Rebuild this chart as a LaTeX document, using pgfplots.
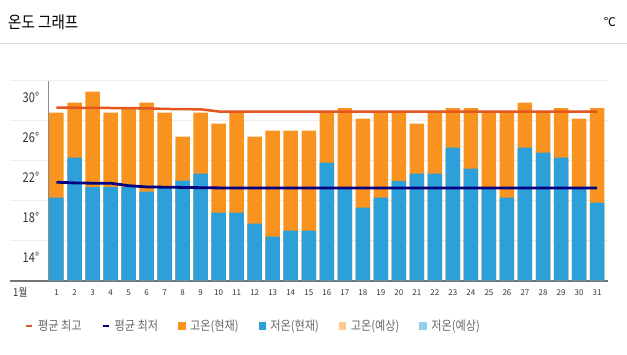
\documentclass[border=0pt]{standalone}
\usepackage{pgfplots}
\usepackage{pgfplotstable}
\pgfplotsset{compat=1.18}
\usepackage{fontspec}
\setmainfont{Noto Sans CJK KR}
\newfontfamily\kr[FakeStretch=0.87]{Noto Sans CJK KR}
\newfontfamily\krn[FakeStretch=0.82]{Noto Sans CJK KR}
\definecolor{hiC}{HTML}{F7931E}
\definecolor{loC}{HTML}{2D9FD9}
\definecolor{avgHi}{HTML}{E4561E}
\definecolor{avgLo}{HTML}{000080}
\definecolor{hiF}{HTML}{FFC98F}
\definecolor{loF}{HTML}{8ECFEA}
\definecolor{txt}{HTML}{333333}
\definecolor{leg}{HTML}{666666}

\pgfplotstableread{
day high low avghigh avglow
1  28.8  20.3  29.30 21.85
2  29.8  24.3  29.30 21.78
3  30.9  21.35 29.28 21.75
4  28.8  21.35 29.27 21.75
5  29.25 21.35 29.25 21.50
6  29.8  20.9  29.24 21.38
7  28.8  21.35 29.18 21.35
8  26.4  22.0  29.15 21.33
9  28.8  22.7  29.14 21.30
10 27.7  18.8  28.92 21.28
11 28.95 18.8  28.92 21.28
12 26.4  17.7  28.92 21.28
13 27.0  16.4  28.92 21.28
14 27.0  17.0  28.92 21.28
15 27.0  17.0  28.92 21.28
16 28.95 23.8  28.92 21.28
17 29.25 21.3  28.92 21.28
18 28.2  19.3  28.92 21.28
19 28.95 20.3  28.92 21.28
20 28.95 21.95 28.92 21.28
21 27.7  22.7  28.92 21.28
22 28.95 22.7  28.92 21.28
23 29.25 25.3  28.92 21.28
24 29.25 23.2  28.92 21.28
25 28.95 21.3  28.92 21.28
26 28.95 20.3  28.92 21.28
27 29.8  25.3  28.92 21.28
28 28.95 24.8  28.92 21.28
29 29.25 24.3  28.92 21.28
30 28.2  21.3  28.92 21.28
31 29.25 19.8  28.92 21.28
}\data

\begin{document}
\begin{tikzpicture}
\useasboundingbox (-10pt,-73.3pt) rectangle (617pt,280.7pt);
\begin{axis}[
  at={(0pt,0pt)}, anchor=south west,
  scale only axis, width=597.7pt, height=200pt,
  xmin=-1.58, xmax=31.59, ymin=12, ymax=32,
  axis x line*=bottom, axis y line*=left,
  x axis line style={-, draw=black!55, line width=1.6pt},
  y axis line style={draw=none},
  major tick length=0pt,
  ytick={12,16,20,24,28,32}, yticklabels={},
  ymajorgrids, grid style={draw=black!7, line width=0.8pt},
  extra y ticks={14,18,22,26,30},
  extra y tick labels={14°,18°,22°,26°,30°},
  extra y tick style={grid=none},
  yticklabel style={anchor=east, inner sep=0pt, xshift=29.3pt, yshift=3.7pt, font=\krn\fontsize{13.5}{14}\selectfont, text=txt},
  xtick={1,...,31},
  /pgf/number format/assume math mode=true,
  xticklabel style={anchor=center, inner sep=0pt, yshift=-12pt, font=\fontsize{8}{8}\selectfont, text=txt},
  clip=true,
  legend columns=6,
  legend style={at={(axis description cs:0.0251,-0.225)}, anchor=west, draw=none, fill=none, inner sep=0pt,
    font=\kr\fontsize{12.8}{13}\selectfont, text=leg,
    nodes={inner sep=0pt},
    /tikz/every odd column/.append style={column sep=5pt},
    /tikz/every even column/.append style={column sep=20pt}},
]
\addlegendimage{legend image code/.code={\draw[avgHi!85!gray, line width=2pt] (0pt,0pt) -- (6pt,0pt);}}
\addlegendentry{평균 최고}
\addlegendimage{legend image code/.code={\draw[avgLo, line width=2pt] (0pt,0pt) -- (6pt,0pt);}}
\addlegendentry{평균 최저}
\addlegendimage{legend image code/.code={\fill[hiC] (0pt,-3pt) rectangle (6.5pt,3.5pt);}}
\addlegendentry{고온(현재)}
\addlegendimage{legend image code/.code={\fill[loC] (0pt,-3pt) rectangle (6.5pt,3.5pt);}}
\addlegendentry{저온(현재)}
\addlegendimage{legend image code/.code={\fill[hiF] (0pt,-3pt) rectangle (6.5pt,3.5pt);}}
\addlegendentry{고온(예상)}
\addlegendimage{legend image code/.code={\fill[loF] (0pt,-3pt) rectangle (6.5pt,3.5pt);}}
\addlegendentry{저온(예상)}

\addplot[ybar, bar width=14.5pt, bar shift=0pt, fill=hiC, draw=none, forget plot] table[x=day,y=high]{\data};
\addplot[ybar, bar width=14.5pt, bar shift=0pt, fill=loC, draw=none, forget plot] table[x=day,y=low]{\data};
\addplot[avgHi, line width=2.5pt, no markers, forget plot] table[x=day,y=avghigh]{\data};
\addplot[avgLo, line width=2.8pt, no markers, forget plot] table[x=day,y=avglow]{\data};
\draw[black!45, line width=1.8pt] (axis cs:0.556,12) -- (axis cs:0.556,32);
\end{axis}
\draw[black!14, line width=1pt] (-10pt,236.7pt) -- (617pt,236.7pt);
\node[anchor=west, inner sep=0pt, font=\kr\fontsize{16.7}{17}\selectfont] at (-2pt,258.7pt) {온도 그래프};
\node[anchor=east, inner sep=0pt, font=\fontsize{12}{12}\selectfont] at (606pt,258.7pt) {℃};
\node[anchor=west, inner sep=0pt, font=\kr\fontsize{11}{12}\selectfont, text=txt] at (3pt,-11.3pt) {1월};
\end{tikzpicture}
\end{document}
